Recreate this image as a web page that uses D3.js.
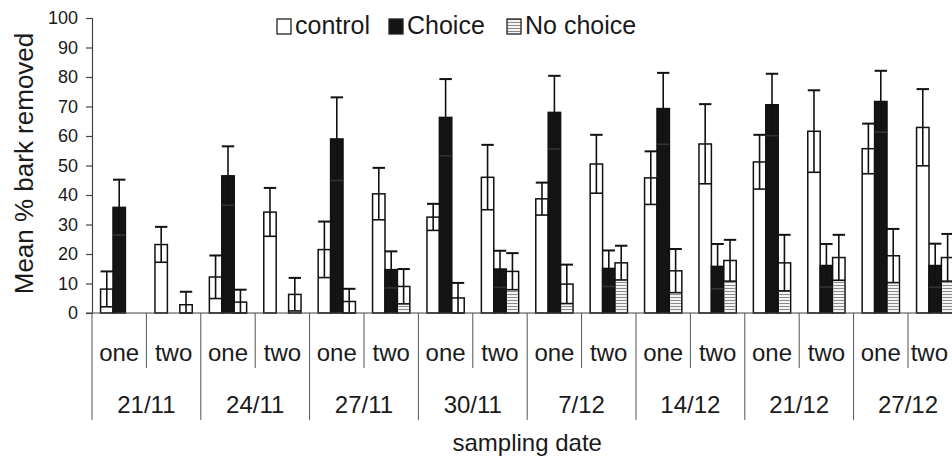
<!DOCTYPE html>
<html>
<head>
<meta charset="utf-8">
<script src="https://cdn.jsdelivr.net/npm/d3@7"></script>
<style>
    body { margin: 0; background: #fff; }
    text { font-family: "Liberation Sans", Arial, sans-serif; fill: #1a1a1a; }
</style>
</head>
<body>
<svg id="chart"></svg>
<script>
// sampling dates, each with two sub-groups
var dates = ["21/11", "24/11", "27/11", "30/11", "7/12", "14/12", "21/12", "27/12"];
var groups = ["one", "two"];
var seriesNames = ["control", "Choice", "No choice"];
var yTicks = [0, 10, 20, 30, 40, 50, 60, 70, 80, 90, 100];

// means and error, ordered date by date: one, two, one, two ...
var control = [8.1, 23.2, 12.2, 34.2, 21.5, 40.4, 32.5, 46.0, 38.7, 50.5, 45.8, 57.3, 51.2, 61.6, 55.7, 62.9];
var controlErr = [6.0, 6.0, 7.3, 8.2, 9.5, 8.8, 4.5, 11.0, 5.5, 9.9, 9.0, 13.5, 9.2, 13.9, 8.5, 13.0];
var choice = [35.8, 0, 46.5, 0, 59.0, 14.7, 66.3, 14.9, 68.0, 15.1, 69.3, 15.8, 70.6, 16.1, 71.7, 16.1];
var choiceErr = [9.4, 0, 10.0, 0, 14.1, 6.2, 13.0, 6.2, 12.4, 6.1, 12.1, 7.6, 10.5, 7.3, 10.4, 7.4];
var noChoice = [0, 2.8, 3.7, 6.3, 3.9, 9.0, 5.1, 14.1, 9.8, 17.0, 14.3, 17.8, 17.0, 18.8, 19.4, 18.8];
var noChoiceErr = [0, 4.4, 4.2, 5.6, 4.3, 5.9, 5.1, 6.2, 6.6, 5.8, 7.4, 7.0, 9.5, 7.7, 9.1, 8.0];

var values = [control, choice, noChoice];
var errors = [controlErr, choiceErr, noChoiceErr];

var W = 952, H = 460;
var margin = {top: 18, left: 92, bottom: 147};
var bandW = 54.4;
var plotH = H - margin.top - margin.bottom;

var svg = d3.select("#chart").attr("width", W).attr("height", H);

var defs = svg.append("defs");
var pat = defs.append("pattern")
    .attr("id", "stripes")
    .attr("patternUnits", "userSpaceOnUse")
    .attr("width", 6).attr("height", 3);
pat.append("rect").attr("width", 6).attr("height", 3).attr("fill", "#f4f4f4");
pat.append("line")
    .attr("x1", 0).attr("x2", 6).attr("y1", 0.5).attr("y2", 0.5)
    .attr("stroke", "#8a8a8a").attr("stroke-width", 1);

// x keys: one per date/group pair
var keys = [];
dates.forEach(function (d) {
    groups.forEach(function (g) { keys.push(d + "|" + g); });
});

var x = d3.scaleBand()
    .domain(keys)
    .range([margin.left, margin.left + bandW * keys.length]);
var xs = d3.scaleBand()
    .domain(seriesNames)
    .range([0, x.bandwidth()])
    .paddingInner(0)
    .paddingOuter(0.69);
var y = d3.scaleLinear().domain([0, 100]).range([margin.top + plotH, margin.top]);

var y0 = y(0);
var root = svg.append("g");

// Y axis
var yAxis = root.append("g")
    .attr("transform", "translate(" + margin.left + ",0)")
    .call(d3.axisLeft(y).tickValues(yTicks).tickSize(6).tickPadding(8).tickFormat(d3.format("d")));
yAxis.select(".domain").attr("stroke", "#444").attr("stroke-width", 1.2);
yAxis.selectAll(".tick line").attr("stroke", "#444").attr("stroke-width", 1.2);
yAxis.selectAll(".tick text")
    .style("font-size", "18px")
    .style("font-family", "'Liberation Sans', Arial, sans-serif")
    .attr("fill", "#1a1a1a");

root.append("text")
    .attr("transform", "translate(33," + (margin.top + plotH / 2 - 2) + ") rotate(-90)")
    .attr("text-anchor", "middle")
    .style("font-size", "26px")
    .text("Mean % bark removed");

// bars
var bars = [];
seriesNames.forEach(function (s, si) {
    keys.forEach(function (k, i) {
        bars.push({key: k, series: s, si: si, v: values[si][i], e: errors[si][i]});
    });
});
var shown = bars.filter(function (d) { return d.v > 0; });

var barG = root.append("g");
barG.selectAll("rect.bar")
    .data(shown)
    .enter()
    .append("rect")
    .attr("class", "bar")
    .attr("x", function (d) { return x(d.key) + xs(d.series); })
    .attr("y", function (d) { return y(d.v); })
    .attr("width", xs.bandwidth())
    .attr("height", function (d) { return y0 - y(d.v); })
    .attr("fill", function (d) { return d.si === 1 ? "#141414" : "#fff"; })
    .attr("stroke", "#111")
    .attr("stroke-width", 1.5);

// striped part of "No choice" bars sits under the lower whisker
barG.selectAll("rect.hatch")
    .data(shown.filter(function (d) { return d.si === 2 && d.v - d.e > 0; }))
    .enter()
    .append("rect")
    .attr("class", "hatch")
    .attr("x", function (d) { return x(d.key) + xs(d.series) + 1; })
    .attr("y", function (d) { return y(d.v - d.e); })
    .attr("width", xs.bandwidth() - 2)
    .attr("height", function (d) { return y0 - y(d.v - d.e) - 1; })
    .attr("fill", "url(#stripes)");

// error bars
var errG = root.append("g")
    .attr("stroke", "#111")
    .attr("stroke-width", 1.6);
var eb = errG.selectAll("g")
    .data(shown.filter(function (d) { return d.e > 0; }))
    .enter()
    .append("g");
function cx(d) { return x(d.key) + xs(d.series) + xs.bandwidth() / 2; }
var cap = xs.bandwidth() / 2;
eb.append("line")
    .attr("x1", cx).attr("x2", cx)
    .attr("y1", function (d) { return y(Math.max(0, d.v - d.e)); })
    .attr("y2", function (d) { return y(d.v + d.e); });
eb.append("line")
    .attr("x1", function (d) { return cx(d) - cap; })
    .attr("x2", function (d) { return cx(d) + cap; })
    .attr("y1", function (d) { return y(d.v + d.e); })
    .attr("y2", function (d) { return y(d.v + d.e); })
    .attr("stroke-width", 2);
eb.append("line")
    .attr("x1", function (d) { return cx(d) - cap; })
    .attr("x2", function (d) { return cx(d) + cap; })
    .attr("y1", function (d) { return y(Math.max(0, d.v - d.e)); })
    .attr("y2", function (d) { return y(Math.max(0, d.v - d.e)); })
    .attr("stroke", function (d) { return d.si === 1 ? "#333" : "#111"; });

// x axis line and separators
root.append("line")
    .attr("x1", margin.left - 6).attr("x2", W)
    .attr("y1", y0).attr("y2", y0)
    .attr("stroke", "#444").attr("stroke-width", 1.2);

var bounds = keys.map(function (k) { return x(k); });
bounds.push(x(keys[keys.length - 1]) + x.bandwidth());
root.selectAll("line.sep")
    .data(bounds)
    .enter()
    .append("line")
    .attr("class", "sep")
    .attr("x1", function (d) { return d; })
    .attr("x2", function (d) { return d; })
    .attr("y1", y0)
    .attr("y2", function (d, i) { return i % 2 === 0 ? 420 : 368; })
    .attr("stroke", "#555").attr("stroke-width", 1);

root.selectAll("text.grp")
    .data(keys)
    .enter()
    .append("text")
    .attr("class", "grp")
    .attr("x", function (d) { return x(d) + x.bandwidth() / 2; })
    .attr("y", 361)
    .attr("text-anchor", "middle")
    .style("font-size", "24px")
    .text(function (d) { return d.split("|")[1]; })
    .each(function () {
        // pull a label back inside when the band runs past the page edge
        var b = this.getBBox();
        if (b.x + b.width > W - 4) {
            d3.select(this).attr("x", W - 4 - b.width / 2);
        }
    });

root.selectAll("text.date")
    .data(dates)
    .enter()
    .append("text")
    .attr("class", "date")
    .attr("x", function (d) { return x(d + "|one") + x.bandwidth(); })
    .attr("y", 413)
    .attr("text-anchor", "middle")
    .style("font-size", "24px")
    .text(function (d) { return d; });

root.append("text")
    .attr("x", margin.left + bandW * keys.length / 2)
    .attr("y", 451)
    .attr("text-anchor", "middle")
    .style("font-size", "24px")
    .text("sampling date");

// legend
var legendX = [277, 389, 507];
var lg = root.append("g");
var li = lg.selectAll("g")
    .data(seriesNames)
    .enter()
    .append("g")
    .attr("transform", function (d, i) { return "translate(" + legendX[i] + ",19)"; });
li.append("rect")
    .attr("width", 14).attr("height", 15)
    .attr("fill", function (d, i) { return i === 1 ? "#141414" : (i === 2 ? "url(#stripes)" : "#fff"); })
    .attr("stroke", "#222").attr("stroke-width", 1.3);
li.append("text")
    .attr("x", 18)
    .attr("y", 15)
    .style("font-size", "25px")
    .text(function (d) { return d; });
</script>
</body>
</html>
